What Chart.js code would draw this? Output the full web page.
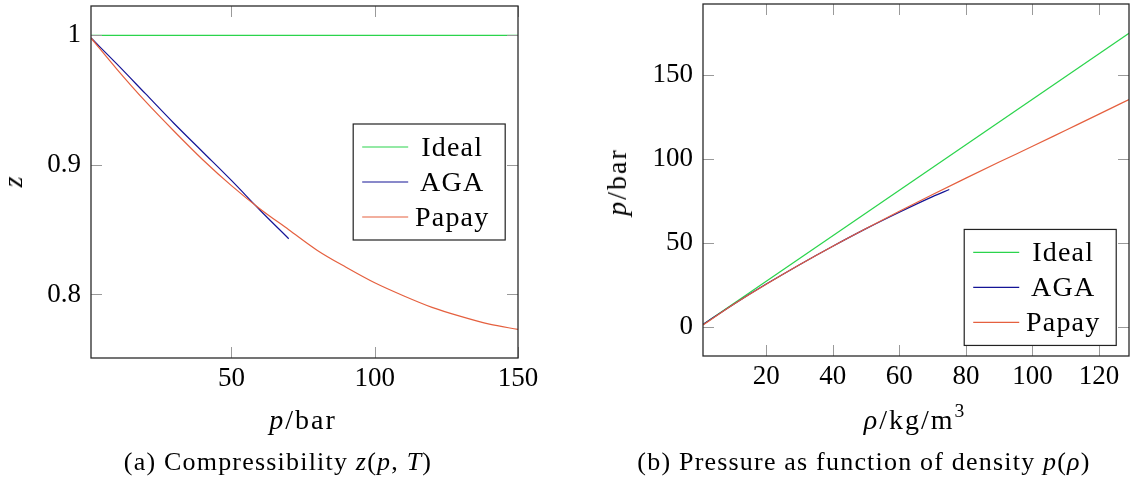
<!DOCTYPE html>
<html>
<head>
<meta charset="utf-8">
<title>Compressibility and pressure–density curves</title>
<script src="https://cdn.jsdelivr.net/npm/chart.js@4.4.1/dist/chart.umd.min.js"></script>
<style>
  html, body { margin: 0; padding: 0; background: #fff; }
  #page { position: relative; width: 1133px; height: 480px; overflow: hidden;
          font-family: "Liberation Serif", "DejaVu Serif", serif; color: #000; }
  canvas { position: absolute; top: 0; }
  #chartZ { left: 0; }
  #chartP { left: 566px; }
  .lbl { position: absolute; white-space: nowrap; font-size: 28px; line-height: 1;
         letter-spacing: 2px; transform: translate(-50%, -50%); }
  .rot { transform: translate(-50%, -50%) rotate(-90deg); }
  .cap { font-size: 26px; letter-spacing: 1.2px; }
  sup { font-size: 0.7em; vertical-align: 0.6em; line-height: 0; }
</style>
</head>
<body>
<div id="page">
  <canvas id="chartZ" width="566" height="480"></canvas>
  <canvas id="chartP" width="567" height="480"></canvas>

  <div class="lbl" style="left:303px; top:420px;"><i>p</i>/bar</div>
  <div class="lbl rot" style="left:13px; top:181px;"><i>z</i></div>
  <div class="lbl cap" style="left:278px; top:462px;">(a) Compressibility <i>z</i>(<i>p</i>, <i>T</i>)</div>

  <div class="lbl rot" style="left:617px; top:182px;"><i>p</i>/bar</div>
  <div class="lbl" style="left:915px; top:420px;"><i>ρ</i>/kg/m<sup>3</sup></div>
  <div class="lbl cap" style="left:864px; top:462px;">(b) Pressure as function of density <i>p</i>(<i>ρ</i>)</div>
</div>

<script>
// ---- series names ----
const seriesNames = ['Ideal', 'AGA', 'Papay'];

// ---- (a) compressibility z over pressure p [bar] ----
const pIdealBar = [1, 150];
const zIdeal    = [1, 1];

const pAgaBar = [1, 10, 20, 30, 40, 50, 60, 70];
const zAga    = [0.998, 0.978, 0.955, 0.932, 0.910, 0.888, 0.865, 0.843];

const pPapayBar = [1, 10, 20, 30, 40, 50, 60, 70, 80, 90, 100, 110, 120, 130, 140, 150];
const zPapay    = [0.998, 0.974, 0.949, 0.926, 0.904, 0.884, 0.866, 0.850,
                   0.834, 0.821, 0.809, 0.799, 0.790, 0.783, 0.777, 0.773];

const pressureTicks      = [50, 100, 150];
const pressureTickLabels = ['50', '100', '150'];
const zTicks      = [0.8, 0.9, 1];
const zTickLabels = ['0.8', '0.9', '1'];

// ---- (b) pressure p [bar] over density rho [kg/m^3] ----
const rhoIdeal = [1, 129];
const pIdeal   = [1.3, 175];

const rhoAga = [1, 10, 20, 30, 40, 50, 60, 70, 75];
const pAga   = [1.3, 13.1, 25.4, 37.0, 48.0, 58.5, 68.3, 77.6, 81.8];

const rhoPapay = [1, 10, 20, 30, 40, 50, 60, 70, 80, 90, 100, 110, 120, 129];
const pPapay   = [1.0, 13.1, 25.3, 36.9, 48.0, 58.6, 68.9, 78.9, 88.6, 98.2, 107.6, 117.2, 126.8, 135.5];

const rhoTicks      = [20, 40, 60, 80, 100, 120];
const rhoTickLabels = ['20', '40', '60', '80', '100', '120'];
const pTicks      = [0, 50, 100, 150];
const pTickLabels = ['0', '50', '100', '150'];

// ---- styling ----
const lineColors = ['#2bd44c', '#141496', '#e5603f'];
const FONT = '"Liberation Serif", "DejaVu Serif", serif';

const toPoints = (xs, ys) => xs.map((x, i) => ({ x: x, y: ys[i] }));

function lineSet(label, data, color, order) {
  return {
    label: label, data: data, borderColor: color, backgroundColor: color,
    borderWidth: 1.2, pointRadius: 0, fill: false, tension: 0,
    cubicInterpolationMode: 'monotone', order: order
  };
}

// Frame around the plot area with inward ticks on all four sides.
const framePlugin = {
  id: 'frame',
  afterDatasetsDraw(chart) {
    const { ctx, chartArea: a, scales } = chart;
    const len = 11;
    ctx.save();
    ctx.strokeStyle = '#9a9a9a';
    ctx.lineWidth = 1;
    ctx.beginPath();
    scales.x.ticks.forEach(t => {
      const px = Math.round(scales.x.getPixelForValue(t.value)) + 0.5;
      ctx.moveTo(px, a.bottom); ctx.lineTo(px, a.bottom - len);
      ctx.moveTo(px, a.top);    ctx.lineTo(px, a.top + len);
    });
    scales.y.ticks.forEach(t => {
      const py = Math.round(scales.y.getPixelForValue(t.value)) + 0.5;
      ctx.moveTo(a.left, py);  ctx.lineTo(a.left + len, py);
      ctx.moveTo(a.right, py); ctx.lineTo(a.right - len, py);
    });
    ctx.stroke();
    ctx.strokeStyle = '#2a2a2a';
    ctx.lineWidth = 1.3;
    ctx.strokeRect(a.left, a.top, a.right - a.left, a.bottom - a.top);
    ctx.restore();
  }
};

// Boxed legend placed inside the plot area.
const boxLegendPlugin = {
  id: 'boxLegend',
  afterDraw(chart, args, o) {
    const { ctx, chartArea: a } = chart;
    const w = 152, h = 116, row = 35;
    const right = a.left + o.atX * (a.right - a.left);
    const yRef  = a.bottom - o.atY * (a.bottom - a.top);
    const left = right - w;
    const top  = yRef - o.anchorY * h;
    ctx.save();
    ctx.fillStyle = '#fff';
    ctx.fillRect(left, top, w, h);
    ctx.strokeStyle = '#222';
    ctx.lineWidth = 1.2;
    ctx.strokeRect(left, top, w, h);
    ctx.font = '28px ' + FONT;
    ctx.letterSpacing = '1.2px';
    ctx.textAlign = 'center';
    ctx.textBaseline = 'alphabetic';
    chart.data.datasets.forEach((ds, i) => {
      const y = top + 23 + i * row;
      ctx.strokeStyle = ds.borderColor;
      ctx.lineWidth = 1.2;
      ctx.beginPath();
      ctx.moveTo(left + 9, y); ctx.lineTo(left + 55, y);
      ctx.stroke();
      ctx.fillStyle = '#000';
      ctx.fillText(ds.label, left + 99, y + 9);
    });
    ctx.restore();
  }
};

function axisOptions(cfg) {
  const vertical = cfg.position === 'left';
  return {
    type: 'linear',
    position: cfg.position,
    min: cfg.min, max: cfg.max,
    grid: { display: false, drawTicks: false },
    border: { display: false },
    afterBuildTicks: s => { s.ticks = cfg.ticks.map(v => ({ value: v })); },
    afterFit: s => {
      if (vertical) { s.width = cfg.size; s.paddingTop = 0; s.paddingBottom = 0; }
      else { s.height = cfg.size; s.paddingLeft = 0; s.paddingRight = 0; }
    },
    ticks: {
      color: '#000',
      font: { family: FONT, size: 27 },
      padding: vertical ? 10 : 5,
      maxRotation: 0, minRotation: 0, autoSkip: false,
      callback: v => cfg.labels[cfg.ticks.indexOf(v)]
    }
  };
}

function makeChart(id, datasets, xCfg, yCfg, padding, legendPos) {
  return new Chart(document.getElementById(id), {
    type: 'line',
    data: { datasets: datasets },
    options: {
      responsive: false,
      animation: false,
      layout: { padding: padding },
      plugins: {
        legend: { display: false },
        tooltip: { enabled: false },
        boxLegend: legendPos
      },
      scales: { x: axisOptions(xCfg), y: axisOptions(yCfg) }
    },
    plugins: [framePlugin, boxLegendPlugin]
  });
}

makeChart('chartZ',
  [
    lineSet(seriesNames[0], toPoints(pIdealBar, zIdeal), lineColors[0], 3),
    lineSet(seriesNames[1], toPoints(pAgaBar, zAga), lineColors[1], 2),
    lineSet(seriesNames[2], toPoints(pPapayBar, zPapay), lineColors[2], 1)
  ],
  { position: 'bottom', min: 1, max: 150, ticks: pressureTicks, labels: pressureTickLabels, size: 122 },
  { position: 'left', min: 0.7509, max: 1.0227, ticks: zTicks, labels: zTickLabels, size: 91 },
  { left: 0, right: 48, top: 6, bottom: 0 },
  { atX: 0.97, atY: 0.5, anchorY: 0.5 }
);

makeChart('chartP',
  [
    lineSet(seriesNames[0], toPoints(rhoIdeal, pIdeal), lineColors[0], 3),
    lineSet(seriesNames[1], toPoints(rhoAga, pAga), lineColors[1], 2),
    lineSet(seriesNames[2], toPoints(rhoPapay, pPapay), lineColors[2], 1)
  ],
  { position: 'bottom', min: 1, max: 129, ticks: rhoTicks, labels: rhoTickLabels, size: 124 },
  { position: 'left', min: -17.5, max: 192.5, ticks: pTicks, labels: pTickLabels, size: 137 },
  { left: 0, right: 4, top: 4, bottom: 0 },
  { atX: 0.97, atY: 0.03, anchorY: 1 }
);
</script>
</body>
</html>
